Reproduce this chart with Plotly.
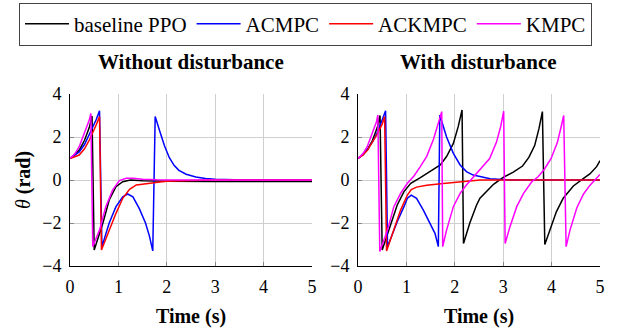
import plotly.graph_objects as go

# ---------------- data ----------------
series_names = ["baseline PPO", "ACMPC", "ACKMPC", "KMPC"]
series_colors = ["#000000", "#0000ff", "#ff0000", "#ff00ff"]
panel_titles = ["Without disturbance", "With disturbance"]
x_ticks = [0, 1, 2, 3, 4, 5]
y_ticks = [-4, -2, 0, 2, 4]

# --- Without disturbance ---
t_ppo_nd = [0, 0.1, 0.2, 0.3, 0.4, 0.455, 0.5, 0.6, 0.68, 0.81, 0.95, 1.09, 1.25, 1.5, 2.0, 3.0, 5.0]
th_ppo_nd = [1.0, 1.18, 1.42, 1.85, 2.45, 2.98, -3.26, -2.6, -2.0, -0.93, -0.31, -0.08, 0.0, -0.03, -0.06, -0.07, -0.07]

t_acmpc_nd = [0, 0.1, 0.19, 0.3, 0.4, 0.54, 0.61, 0.66, 0.81, 0.95, 1.09, 1.19, 1.3, 1.43, 1.56, 1.64, 1.71,
              1.76, 1.85, 1.95, 2.05, 2.15, 2.25, 2.4, 2.6, 2.8, 3.0, 3.4, 5.0]
th_acmpc_nd = [1.0, 1.14, 1.3, 1.65, 2.1, 2.8, 3.22, -3.1, -2.0, -1.24, -0.78, -0.65, -0.78, -1.32, -2.0, -2.6, -3.3,
               2.95, 2.3, 1.6, 1.05, 0.68, 0.45, 0.27, 0.14, 0.07, 0.04, 0.01, 0.0]

t_ackmpc_nd = [0, 0.19, 0.3, 0.4, 0.54, 0.61, 0.65, 0.81, 0.95, 1.09, 1.23, 1.37, 1.57, 1.72, 1.86, 2.0, 2.2, 2.5, 3.0, 5.0]
th_ackmpc_nd = [1.0, 1.16, 1.45, 1.86, 2.56, 2.95, -3.26, -2.33, -1.55, -0.85, -0.43, -0.23, -0.16, -0.12, -0.09, -0.06,
                -0.03, -0.02, 0.0, 0.0]

t_kmpc_nd = [0, 0.1, 0.19, 0.33, 0.4, 0.43, 0.47, 0.61, 0.74, 0.88, 1.02, 1.16, 1.3, 1.5, 1.8, 2.5, 5.0]
th_kmpc_nd = [1.0, 1.22, 1.55, 2.33, 2.8, 3.1, -3.1, -2.33, -1.24, -0.47, -0.03, 0.08, 0.08, 0.04, 0.01, 0.0, 0.0]

# --- With disturbance ---
t_ppo_d = [0, 0.1, 0.2, 0.3, 0.4, 0.455, 0.5, 0.68, 0.81, 0.95, 1.09, 1.28, 1.49, 1.7, 1.83, 1.97, 2.07, 2.15,
           2.18, 2.31, 2.45, 2.52, 2.8, 3.0, 3.2, 3.4, 3.53, 3.65, 3.74, 3.81,
           3.86, 3.97, 4.1, 4.24, 4.45, 4.66, 4.79, 4.93, 5.0]
th_ppo_d = [1.0, 1.18, 1.42, 1.85, 2.45, 3.0, -3.26, -2.0, -1.16, -0.54, -0.15, 0.1, 0.39, 0.7, 1.09, 1.7, 2.48, 3.26,
            -2.95, -2.0, -1.16, -0.85, -0.2, 0.12, 0.35, 0.65, 1.05, 1.6, 2.4, 3.18,
            -3.0, -2.3, -1.47, -0.85, -0.28, 0.08, 0.28, 0.62, 0.9]

t_acmpc_d = [0, 0.1, 0.2, 0.3, 0.4, 0.5, 0.57, 0.61, 0.81, 0.95, 1.02, 1.1, 1.21, 1.35, 1.49, 1.59, 1.66,
             1.69, 1.83, 1.97, 2.11, 2.24, 2.38, 2.52, 2.73, 3.14, 5.0]
th_acmpc_d = [1.0, 1.18, 1.45, 1.77, 2.2, 2.75, 3.22, -3.1, -1.94, -1.24, -0.85, -0.7, -0.85, -1.4, -2.0, -2.48, -3.1,
              3.02, 2.0, 1.24, 0.7, 0.39, 0.23, 0.16, 0.06, 0.0, 0.0]

t_ackmpc_d = [0, 0.1, 0.2, 0.3, 0.4, 0.5, 0.55, 0.59, 0.74, 0.88, 1.02, 1.1, 1.21, 1.42, 1.76, 2.11, 2.52, 5.0]
th_ackmpc_d = [1.0, 1.15, 1.4, 1.75, 2.15, 2.6, 2.95, -3.3, -2.33, -1.4, -0.7, -0.45, -0.33, -0.24, -0.16, -0.08, 0.0, 0.0]

t_kmpc_d = [0, 0.1, 0.19, 0.33, 0.38, 0.41,
            0.45, 0.61, 0.74, 0.88, 1.02, 1.1, 1.16, 1.28, 1.42, 1.56, 1.66, 1.73,
            1.75, 1.83, 1.97, 2.11, 2.24, 2.38, 2.56, 2.72, 2.86, 2.95, 3.01,
            3.04, 3.14, 3.28, 3.42, 3.59, 3.72, 3.85, 3.99, 4.12, 4.2, 4.25,
            4.3, 4.38, 4.52, 4.66, 4.79, 4.93, 5.0]
th_kmpc_d = [1.0, 1.22, 1.55, 2.33, 2.7, 3.02,
             -3.33, -2.33, -1.24, -0.62, -0.15, 0.05, 0.2, 0.6, 1.1, 1.9, 2.6, 3.18,
             -3.1, -2.33, -1.24, -0.62, -0.23, 0.12, 0.55, 1.0, 1.75, 2.5, 3.2,
             -2.95, -2.17, -1.24, -0.62, -0.08, 0.15, 0.5, 1.0, 1.75, 2.5, 3.0,
             -3.1, -2.33, -1.3, -0.65, -0.25, 0.1, 0.26]

panels = [
    [(t_ppo_nd, th_ppo_nd), (t_acmpc_nd, th_acmpc_nd), (t_ackmpc_nd, th_ackmpc_nd), (t_kmpc_nd, th_kmpc_nd)],
    [(t_ppo_d, th_ppo_d), (t_acmpc_d, th_acmpc_d), (t_ackmpc_d, th_ackmpc_d), (t_kmpc_d, th_kmpc_d)],
]

# ---------------- figure ----------------
W, H = 624, 332
FONT = "Liberation Serif"
fig = go.Figure()

for p, panel in enumerate(panels):
    xa = "x" if p == 0 else "x2"
    ya = "y" if p == 0 else "y2"
    for i, (t, th) in enumerate(panel):
        fig.add_trace(go.Scatter(
            x=t, y=th, mode="lines", name=series_names[i],
            line=dict(color=series_colors[i], width=1.5),
            xaxis=xa, yaxis=ya, showlegend=(p == 0),
        ))

ydom = [(H - 266) / H, (H - 94) / H]
xdoms = [[70 / W, 312 / W], [358 / W, 600 / W]]

axis_common = dict(
    showgrid=True, gridcolor="#cfcfcf", gridwidth=1,
    showline=True, linecolor="black", linewidth=1,
    zeroline=False, ticks="inside", ticklen=4, tickcolor="#888888",
    tickfont=dict(family=FONT, size=18, color="black"),
    automargin=False,
)

for p in range(2):
    sfx = "" if p == 0 else "2"
    fig.update_layout(**{
        "xaxis" + sfx: dict(axis_common, domain=xdoms[p], range=[0, 5], tickvals=x_ticks,
                            anchor="y" + sfx, ticklabelstandoff=4,
                            title=dict(text="<b>Time (s)</b>", font=dict(family=FONT, size=20, color="black"),
                                       standoff=13)),
        "yaxis" + sfx: dict(axis_common, domain=ydom, range=[-4, 4], tickvals=y_ticks,
                            anchor="x" + sfx, ticklabelstandoff=4,
                            title=dict(text="<i>θ</i> <b>(rad)</b>" if p == 0 else "",
                                       font=dict(family=FONT, size=20, color="black"), standoff=6)),
    })

for p in range(2):
    fig.add_annotation(
        x=(xdoms[p][0] + xdoms[p][1]) / 2, y=(H - 62) / H, xref="paper", yref="paper",
        text="<b>" + panel_titles[p] + "</b>", showarrow=False,
        font=dict(family=FONT, size=21, color="black"), xanchor="center", yanchor="middle",
    )

fig.update_layout(
    template="none",
    width=W, height=H, autosize=False,
    margin=dict(l=0, r=0, t=0, b=0, pad=0),
    paper_bgcolor="white", plot_bgcolor="white",
    font=dict(family=FONT, size=18, color="black"),
    hovermode=False,
    legend=dict(
        orientation="h", x=305.5 / W, xanchor="center", y=1 - 2.5 / H, yanchor="top",
        bordercolor="#444444", borderwidth=1, bgcolor="white",
        font=dict(family=FONT, size=21, color="black"),
        itemwidth=44, tracegroupgap=0,
    ),
)

fig.write_html("out.html", config={"displayModeBar": False},
               post_script="document.body.style.margin='0px';")
